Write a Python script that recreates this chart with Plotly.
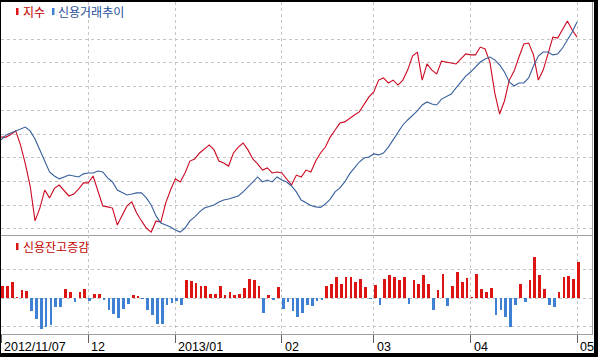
import plotly.graph_objects as go
import pandas as pd

# ---------------- data ----------------
holidays = ['2012-12-19', '2012-12-25', '2012-12-31', '2013-01-01',
            '2013-02-11', '2013-03-01', '2013-05-01']
dates = [d.strftime('%Y-%m-%d') for d in pd.bdate_range('2012-11-07', '2013-05-02')
         if d.strftime('%Y-%m-%d') not in holidays]

# 지수 (index, arbitrary units)
index_vals = [38.7, 38.7, 39.8, 41.3, 35.4, 27.4, 18.1, 3.4, 8.8, 16.4,
              13.1, 17.1, 18.5, 16.4, 13.9, 14.7, 16.8, 19.4, 19.4, 22.3,
              16.4, 9.7, 9.3, 8.8, 1.7, 5.9, 9.7, 11.4, 6.7, 3.4,
              0.4, -1.3, 3.4, 2.9, 10.9, 16.4, 21.1, 19.8, 23.6, 28.6,
              29.5, 32.0, 33.7, 35.4, 33.3, 28.6, 27.8, 26.5, 32.0, 34.5,
              36.2, 33.3, 29.5, 27.4, 24.8, 25.7, 23.6, 24.0, 23.6, 21.1,
              18.5, 22.7, 21.9, 24.8, 24.0, 28.6, 32.0, 34.5, 38.7, 41.7,
              44.6, 45.1, 46.7, 48.0, 49.3, 52.6, 55.6, 57.7, 62.7, 63.6,
              61.5, 62.7, 60.6, 62.7, 66.9, 72.8, 74.5, 62.7, 69.5, 66.9,
              65.3, 70.7, 70.3, 69.9, 69.5, 71.6, 73.7, 73.3, 73.3, 76.6,
              75.8, 70.3, 57.3, 48.4, 53.9, 62.7, 66.5, 72.4, 77.9, 78.3,
              73.3, 62.7, 66.9, 73.7, 80.8, 80.4, 83.8, 87.6, 83.8, 80.8]

# 신용거래추이 (credit trading trend, same scale)
credit_vals = [37.5, 39.6, 40.4, 41.3, 42.1, 42.9, 41.3, 37.9, 33.3, 28.6,
               24.0, 22.3, 21.1, 21.9, 22.7, 22.3, 21.9, 23.2, 23.6, 23.6,
               24.4, 24.0, 21.5, 19.8, 16.4, 15.4, 14.3, 14.7, 15.2, 15.2,
               13.1, 10.1, 5.5, 2.5, 1.7, 0.8, -0.4, -1.3, 0.4, 3.4,
               5.1, 7.2, 8.8, 9.3, 10.1, 11.4, 12.2, 12.6, 13.1, 13.9,
               15.6, 17.7, 20.2, 21.9, 19.8, 20.6, 19.8, 21.9, 20.6, 19.8,
               18.1, 15.6, 12.2, 10.9, 9.9, 9.3, 9.1, 10.5, 12.6, 15.6,
               17.3, 19.8, 23.2, 25.7, 28.2, 29.9, 30.3, 31.6, 31.2, 32.0,
               34.5, 37.5, 40.4, 43.8, 45.9, 47.6, 49.7, 52.2, 53.5, 52.6,
               52.2, 54.7, 55.6, 56.8, 59.4, 61.9, 64.4, 66.1, 68.2, 70.3,
               71.6, 72.4, 71.2, 69.1, 66.1, 61.9, 60.2, 61.5, 61.5, 63.6,
               68.6, 72.8, 74.5, 74.5, 73.3, 73.7, 76.2, 79.6, 82.9, 87.2]

# 신용잔고증감 (change in credit balance)
balance_change = [43, 41, 55, 2, 29, 26, -47, -74, -109, -102,
                  -93, -33, -32, 33, 20, -15, 22, 33, -12, 15,
                  14, -8, -43, -56, -70, -37, -20, 12, 8, -4,
                  -43, -58, -91, -91, -26, -18, -10, -26, 64, 58,
                  53, 41, 43, 15, 15, 43, 12, 22, 11, 15,
                  35, 67, 64, 41, -53, 12, -6, 40, -37, -15,
                  -47, -68, -53, -23, -29, -12, -6, 41, 49, 72,
                  49, 74, 74, 56, 68, 37, -3, 44, -23, 67,
                  82, 74, 64, 72, -20, 64, 50, 82, 50, -43,
                  29, 85, -29, 43, 90, 57, 71, 2, 85, 32,
                  22, 35, -60, -43, -67, -103, -23, 50, -15, 64,
                  143, 82, 32, -26, -33, 22, 74, 78, 68, 125]

tick_dates = ['2012-11-07', '2012-12-03', '2013-01-02', '2013-02-01',
              '2013-03-04', '2013-04-01', '2013-05-02']
tick_labels = ['2012/11/07', '12', '2013/01', '02', '03', '04', '05']

# ---------------- layout helpers ----------------
W, H = 598, 357
ML, MR, MT, MB = 1, 6, 2, 23
PW = W - ML - MR
PH = H - MT - MB


def px(x):
    return (x - ML) / PW


def py(y):
    return (H - MB - y) / PH


RED_LINE = '#cc0a22'
BLUE_LINE = '#365f9c'
RED_BAR = '#dc1414'
BLUE_BAR = '#3d80d4'
GRID = '#c4c4c4'
BORDER = '#a0a0a0'
KFONT = 'Noto Sans CJK KR'

split = py(234.5)

fig = go.Figure()
fig.add_trace(go.Scatter(x=dates, y=index_vals, mode='lines', name='지수',
                         line=dict(color=RED_LINE, width=1.1), xaxis='x', yaxis='y'))
fig.add_trace(go.Scatter(x=dates, y=credit_vals, mode='lines', name='신용거래추이',
                         line=dict(color=BLUE_LINE, width=1.1), xaxis='x', yaxis='y'))
fig.add_trace(go.Bar(x=dates, y=balance_change, name='신용잔고증감',
                     marker=dict(color=[RED_BAR if v >= 0 else BLUE_BAR for v in balance_change],
                                 line=dict(width=0)),
                     offset=0, width=0.56, xaxis='x2', yaxis='y2'))

common_x = dict(type='category', range=[-0.03, 122.09], tickmode='array',
                tickvals=tick_dates, showticklabels=False, showgrid=True,
                gridcolor=GRID, griddash='dot', gridwidth=1, showline=True,
                linecolor=BORDER, linewidth=1, fixedrange=True)

annotations = []
for d, t in zip(tick_dates, tick_labels):
    annotations.append(dict(x=d, xref='x2', y=py(347), yref='paper', text=t,
                            showarrow=False, xanchor='left', yanchor='middle', xshift=1,
                            font=dict(family='Liberation Sans', size=12.5, color='#000000')))

annotations += [
    dict(x=px(21), y=py(11), xref='paper', yref='paper', text='지수', showarrow=False,
         xanchor='left', yanchor='middle', font=dict(family=KFONT, size=12, color='#c00000')),
    dict(x=px(56), y=py(11), xref='paper', yref='paper', text='신용거래추이', showarrow=False,
         xanchor='left', yanchor='middle', font=dict(family=KFONT, size=12, color='#1e4f9c')),
    dict(x=px(21), y=py(246), xref='paper', yref='paper', text='신용잔고증감', showarrow=False,
         xanchor='left', yanchor='middle', font=dict(family=KFONT, size=12, color='#c00000')),
]


def rect(x0, y0, x1, y1, color):
    return dict(type='rect', xref='paper', yref='paper', x0=px(x0), x1=px(x1),
                y0=py(y1), y1=py(y0), fillcolor=color, line=dict(width=0), layer='above')


shapes = [
    rect(16, 8, 18.5, 15, RED_BAR),
    rect(52, 8, 54.5, 15, BLUE_BAR),
    rect(16, 243, 18.5, 250, RED_BAR),
    # black frame
    rect(-2, -2, 600, 2, '#000000'),
    rect(-2, -2, 1, 360, '#000000'),
    rect(594, -2, 600, 360, '#000000'),
    rect(-2, 353, 600, 360, '#000000'),
]

fig.update_layout(
    width=W, height=H,
    margin=dict(l=ML, r=MR, t=MT, b=MB, pad=0),
    paper_bgcolor='#ffffff', plot_bgcolor='#ffffff',
    showlegend=False, bargap=0, hovermode=False,
    xaxis=dict(domain=[0, 1], anchor='y', ticks='', **common_x),
    xaxis2=dict(domain=[0, 1], anchor='y2', matches='x', ticks='outside', ticklen=8,
                tickcolor='#606060', tickwidth=1, **common_x),
    yaxis=dict(domain=[split, 1], range=[-2.32, 95.58], tickmode='array',
               tickvals=[0, 10, 20, 30, 40, 50, 60, 70, 80], showticklabels=False,
               gridcolor=GRID, griddash='dot', zeroline=False, showline=True, side='right',
               linecolor=BORDER, fixedrange=True),
    yaxis2=dict(domain=[0, split], range=[-126.3, 222.8], tickmode='array',
                tickvals=[-100, 0, 100], showticklabels=False, gridcolor=GRID,
                griddash='dot', zeroline=False, showline=True, side='right',
                linecolor=BORDER, fixedrange=True),
    annotations=annotations,
    shapes=shapes,
)

fig.write_html('out.html', config={'displayModeBar': False, 'staticPlot': True},
               post_script="document.body.style.margin='0';document.body.style.padding='0';")
